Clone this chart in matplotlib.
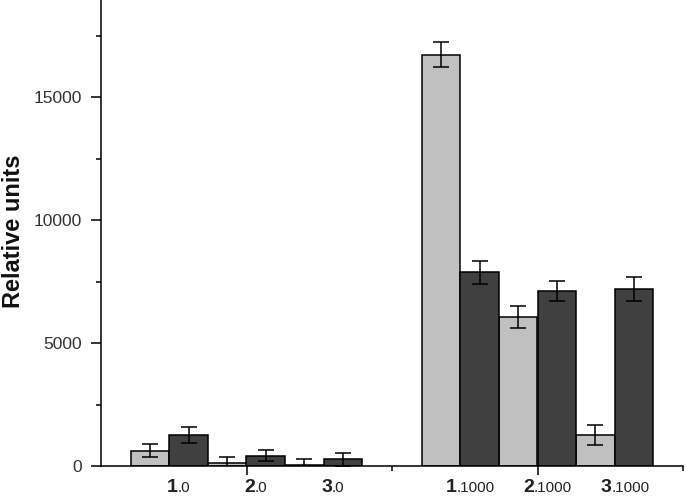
import matplotlib
matplotlib.use("Agg")
import matplotlib.pyplot as plt
import numpy as np
from matplotlib.ticker import FixedLocator

plt.rcParams['font.family'] = ['Liberation Sans', 'DejaVu Sans']

# values
groups = ['0', '1000']
samples = ['1', '2', '3']
light_0 = [630, 130, 50]
light_0_err = [270, 220, 220]
dark_0 = [1260, 410, 280]
dark_0_err = [310, 225, 260]
light_1000 = [16730, 6060, 1260]
light_1000_err = [500, 430, 420]
dark_1000 = [7870, 7100, 7190]
dark_1000_err = [450, 410, 500]

light_vals = [light_0, light_1000]
light_errs = [light_0_err, light_1000_err]
dark_vals = [dark_0, dark_1000]
dark_errs = [dark_0_err, dark_1000_err]

fig = plt.figure(figsize=(6.85, 4.96), dpi=100)
ax = fig.add_axes([101/685, 30/496, 582/685, 466/496])

group_centers = [1, 3]
step = 0.531
w = step / 2
light_col = '#c0c0c0'
dark_col = '#404040'
ekw = dict(elinewidth=1.1, capthick=1.1, ecolor='black')

for gi, gc in enumerate(group_centers):
    pair_x = gc + step * (np.arange(3) - 1)
    ax.bar(pair_x - w/2, light_vals[gi], w, yerr=light_errs[gi], color=light_col,
           edgecolor='black', linewidth=1.1, capsize=6, error_kw=ekw, zorder=2)
    ax.bar(pair_x + w/2, dark_vals[gi], w, yerr=dark_errs[gi], color=dark_col,
           edgecolor='black', linewidth=1.1, capsize=6, error_kw=ekw, zorder=2)
    # labels: bold number + small suffix
    dx = 6 if gi == 0 else -2.5
    for si, s in enumerate(samples):
        ax.annotate(s, xy=(pair_x[si], 0), xycoords=ax.get_xaxis_transform(),
                    xytext=(dx, -18.5), textcoords='offset points',
                    ha='right', va='baseline', fontsize=14, fontweight='bold',
                    color='#222222', annotation_clip=False)
        ax.annotate('.' + groups[gi], xy=(pair_x[si], 0), xycoords=ax.get_xaxis_transform(),
                    xytext=(dx, -18.5), textcoords='offset points',
                    ha='left', va='baseline', fontsize=11,
                    color='#222222', annotation_clip=False)

ax.set_xlim(0, 4)
ax.set_ylim(0, 18950)

for side in ['top', 'right']:
    ax.spines[side].set_visible(False)
for side in ['left', 'bottom']:
    ax.spines[side].set_linewidth(1.1)

ax.yaxis.set_major_locator(FixedLocator([0, 5000, 10000, 15000]))
ax.yaxis.set_minor_locator(FixedLocator([2500, 7500, 12500, 17500]))
ax.xaxis.set_major_locator(FixedLocator([1, 3]))
ax.xaxis.set_minor_locator(FixedLocator([2, 4]))
ax.set_xticklabels([])
ax.tick_params(axis='y', which='major', direction='out', length=7.2, width=1.1,
               pad=6.5, labelsize=12.5, labelcolor='#333333')
ax.tick_params(axis='y', which='minor', direction='out', length=3.6, width=1.1)
ax.tick_params(axis='x', which='major', direction='out', length=6.5, width=1.1)
ax.tick_params(axis='x', which='minor', direction='out', length=3.6, width=1.1)

fig.text(14/685, 1 - 231/496, 'Relative units', rotation=90, ha='center', va='center',
         fontsize=17, fontweight='bold', color='#111111')

fig.savefig('out.png', dpi=100)
